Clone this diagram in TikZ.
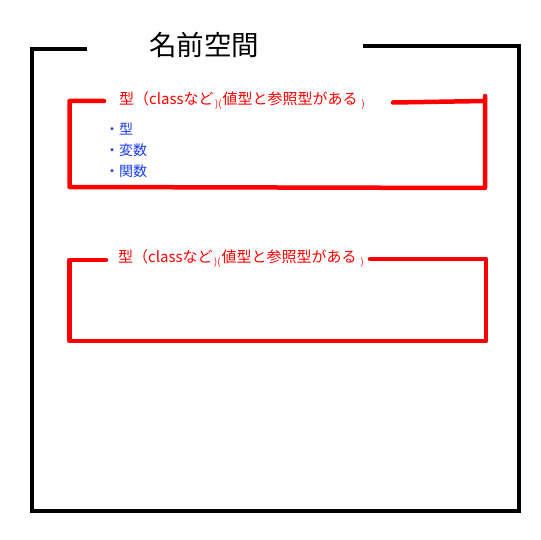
\documentclass[tikz,border=0pt]{standalone}
\usepackage{fontspec}
\newfontfamily\cjk{Noto Sans CJK JP}
\definecolor{boxred}{RGB}{255,0,0}
\definecolor{itemblue}{RGB}{25,60,240}
\tikzset{
  outerline/.style={line width=3.5pt, black, line join=miter},
  redline/.style={line width=4.5pt, boxred, line join=round, line cap=round},
  titletext/.style={font=\cjk\fontsize{27.5}{30}\selectfont, inner sep=0pt, text=black},
  redtext/.style={font=\cjk\fontsize{15}{17}\selectfont, inner sep=0pt, anchor=west, text=boxred},
  itemtext/.style={font=\cjk\fontsize{14}{16}\selectfont, inner sep=0pt, anchor=west, text=itemblue}
}
\newcommand{\smallpar}[1]{\raisebox{-3pt}{\fontsize{9.5}{10}\selectfont #1}}
\newcommand{\typelabel}{型（classなど\hspace{1.5pt}\smallpar{)(}\hspace{1pt}値型と参照型がある\hspace{4pt}\smallpar{)}}
\begin{document}
\begin{tikzpicture}[x=1pt,y=-1pt]
\useasboundingbox (0,0) rectangle (540,540);
% outer namespace frame
\draw[outerline] (87,49) -- (32,49) -- (32,511) -- (519,511) -- (519,46) -- (363,46);
\node[titletext] (title) at (204,45) {名前空間};
% first type box
\draw[redline] (104,101) -- (69.5,101) -- (69.5,187) -- (485,188) -- (485,96);
\draw[redline] (393,102.5) -- (485,101);
\node[redtext] (type1) at (119,101) {\typelabel};
\node[itemtext] (item1) at (105,129) {・型};
\node[itemtext] (item2) at (105,150) {・変数};
\node[itemtext] (item3) at (105,171) {・関数};
% second type box
\draw[redline] (106,260) -- (69.5,260) -- (69.5,341) -- (486,341) -- (486,259) -- (370,259);
\node[redtext] (type2) at (118,259) {\typelabel};
\end{tikzpicture}
\end{document}
